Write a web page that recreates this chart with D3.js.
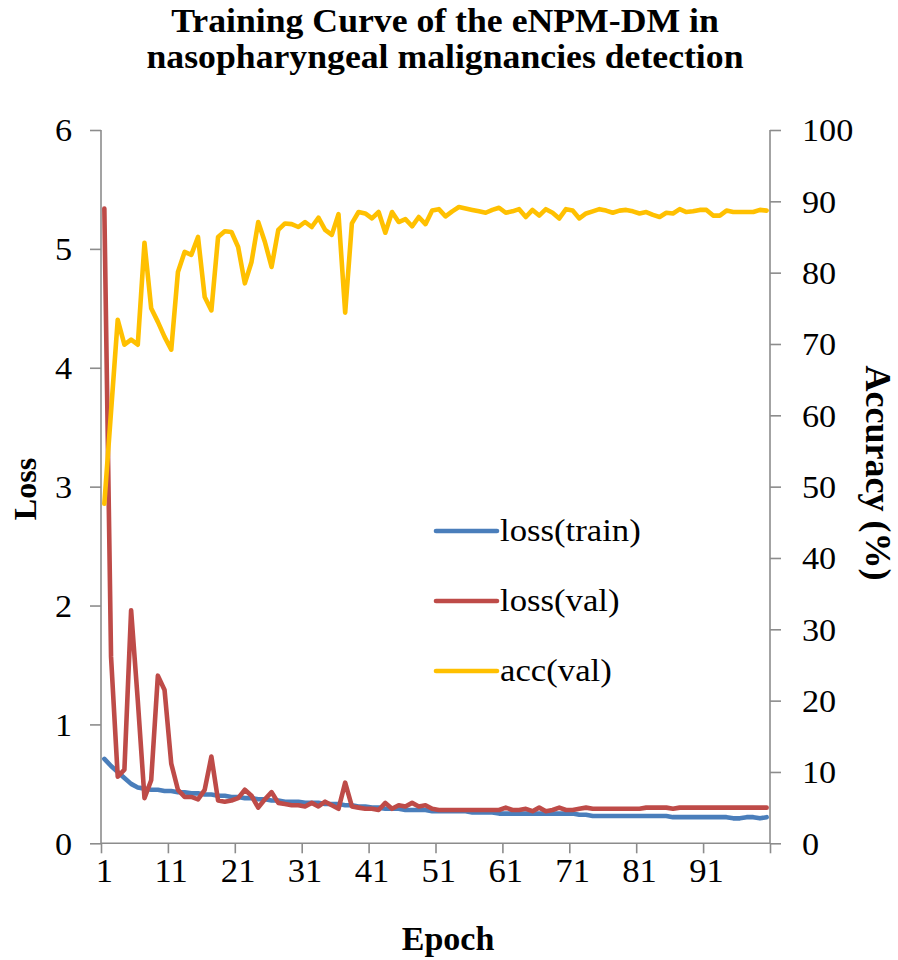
<!DOCTYPE html>
<html><head><meta charset="utf-8">
<script src="https://cdn.jsdelivr.net/npm/d3@7"></script>
<style>body{margin:0;background:#fff}svg{display:block}</style>
</head><body>
<script>
const epochs = d3.range(1, 101);
const xTickLabels = [1, 11, 21, 31, 41, 51, 61, 71, 81, 91];
const lossTicks = [0, 1, 2, 3, 4, 5, 6];
const accTicks = [0, 10, 20, 30, 40, 50, 60, 70, 80, 90, 100];

const lossTrain = [0.71,0.65,0.60,0.55,0.50,0.47,0.46,0.45,0.45,0.44,
0.44,0.43,0.43,0.42,0.42,0.41,0.41,0.40,0.40,0.39,
0.39,0.38,0.38,0.37,0.37,0.36,0.36,0.35,0.35,0.35,
0.34,0.34,0.34,0.33,0.33,0.33,0.32,0.32,0.31,0.31,
0.30,0.30,0.29,0.29,0.29,0.28,0.28,0.28,0.28,0.27,
0.27,0.27,0.27,0.27,0.27,0.26,0.26,0.26,0.26,0.25,
0.25,0.25,0.25,0.25,0.25,0.25,0.25,0.25,0.25,0.25,
0.25,0.24,0.24,0.23,0.23,0.23,0.23,0.23,0.23,0.23,
0.23,0.23,0.23,0.23,0.23,0.22,0.22,0.22,0.22,0.22,
0.22,0.22,0.22,0.22,0.21,0.21,0.22,0.22,0.21,0.22];

const lossVal = [5.34,1.57,0.56,0.62,1.96,1.20,0.38,0.53,1.41,1.29,
0.67,0.45,0.39,0.39,0.37,0.45,0.73,0.36,0.35,0.36,
0.38,0.45,0.40,0.30,0.37,0.43,0.34,0.33,0.32,0.32,
0.31,0.34,0.31,0.35,0.32,0.29,0.51,0.31,0.30,0.29,
0.29,0.28,0.34,0.29,0.32,0.31,0.34,0.31,0.32,0.29,
0.28,0.28,0.28,0.28,0.28,0.28,0.28,0.28,0.28,0.28,
0.30,0.28,0.28,0.29,0.27,0.30,0.27,0.28,0.30,0.28,
0.28,0.29,0.30,0.29,0.29,0.29,0.29,0.29,0.29,0.29,
0.29,0.30,0.30,0.30,0.30,0.29,0.30,0.30,0.30,0.30,
0.30,0.30,0.30,0.30,0.30,0.30,0.30,0.30,0.30,0.30];

const accVal = [47.6,60.5,73.4,69.9,70.6,69.9,84.2,75.0,73.1,71.0,
69.2,80.1,82.9,82.5,85.0,76.6,74.7,85.0,85.8,85.7,
83.6,78.5,81.5,87.1,84.3,80.8,86.0,86.9,86.8,86.4,
87.1,86.4,87.7,86.0,85.3,88.2,74.4,86.9,88.5,88.3,
87.6,88.5,85.6,88.5,87.1,87.5,86.5,87.8,86.8,88.7,
88.9,87.9,88.6,89.2,89.0,88.8,88.6,88.4,88.8,89.1,
88.4,88.6,88.9,87.8,88.8,88.0,88.9,88.4,87.6,88.9,
88.7,87.6,88.3,88.6,88.9,88.7,88.4,88.7,88.8,88.6,
88.3,88.5,88.1,87.8,88.4,88.3,88.9,88.5,88.6,88.8,
88.8,88.0,88.0,88.7,88.5,88.5,88.5,88.5,88.8,88.7];

const seriesNames = ["loss(train)", "loss(val)", "acc(val)"];
const colors = ["#4A7EBB", "#BE4B48", "#FFC000"];

const W = 898, H = 960;
const pLeft = 101, pRight = 770, pTop = 130, pBottom = 843.3;
const axisColor = "#8C8C8C";
const serif = "Liberation Serif, Times New Roman, serif";

const svg = d3.select("body").append("svg").attr("width", W).attr("height", H);

const x = d3.scaleLinear().domain([0.5, 100.5]).range([pLeft, pRight]);
const yL = d3.scaleLinear().domain([0, 6]).range([pBottom, pTop]);
const yR = d3.scaleLinear().domain([0, 100]).range([pBottom, pTop]);

// axes
const gl = svg.append("g").attr("transform", `translate(${pLeft},0)`)
  .call(d3.axisLeft(yL).tickValues(lossTicks).tickSize(11).tickFormat(d3.format("d")));
const gr = svg.append("g").attr("transform", `translate(${pRight},0)`)
  .call(d3.axisRight(yR).tickValues(accTicks).tickSize(11).tickFormat(d3.format("d")));
const gb = svg.append("g").attr("transform", `translate(0,${pBottom})`)
  .call(d3.axisBottom(x).tickValues(d3.range(0.5, 101, 10)).tickSize(10).tickFormat(""));

[gl, gr, gb].forEach(g => {
  g.select(".domain").attr("stroke", axisColor).attr("stroke-width", 1.6);
  g.selectAll(".tick line").attr("stroke", axisColor).attr("stroke-width", 1.6);
});
gl.select(".domain").attr("d", `M0,${pTop}V${pBottom}`);
gr.select(".domain").attr("d", `M0,${pTop}V${pBottom}`);
gb.select(".domain").attr("d", `M${pLeft},0H${pRight}`);

gl.selectAll(".tick text").attr("x", 0).attr("dy", "0.34em")
  .attr("transform", "translate(-29,0) scale(1.07,1)")
  .attr("font-family", serif).attr("font-size", 32).attr("fill", "#000");
gr.selectAll(".tick text").attr("x", 0).attr("dy", "0.34em")
  .attr("transform", "translate(32,0) scale(1.07,1)")
  .attr("font-family", serif).attr("font-size", 32).attr("fill", "#000");

// x labels
svg.append("g").selectAll("text").data(xTickLabels).join("text")
  .attr("transform", d => `translate(${x(d)},882) scale(1.05,1)`)
  .attr("text-anchor", "middle")
  .attr("font-family", serif).attr("font-size", 33).attr("fill", "#000")
  .text(d => d);

// lines
const series = [lossTrain, lossVal, accVal];
const scales = [yL, yL, yR];
series.forEach((s, k) => {
  const line = d3.line().x((d, i) => x(epochs[i])).y(d => scales[k](d));
  svg.append("path").datum(s).attr("d", line)
    .attr("fill", "none").attr("stroke", colors[k]).attr("stroke-width", 4.6)
    .attr("stroke-linejoin", "round").attr("stroke-linecap", "round");
});

// legend
const legY = [531, 601, 671];
seriesNames.forEach((n, k) => {
  svg.append("line").attr("x1", 436).attr("x2", 497).attr("y1", legY[k]).attr("y2", legY[k])
    .attr("stroke", colors[k]).attr("stroke-width", 4.6).attr("stroke-linecap", "round");
  svg.append("text").attr("transform", `translate(500,${legY[k] + 10}) scale(1.12,1)`)
    .attr("font-family", serif).attr("font-size", 31).attr("fill", "#000").text(n);
});

// titles
const title = ["Training Curve of the eNPM-DM in", "nasopharyngeal malignancies detection"];
title.forEach((t, k) => {
  svg.append("text").attr("transform", `translate(445,${32 + k * 36}) scale(1.05,1)`)
    .attr("text-anchor", "middle").attr("font-family", serif).attr("font-weight", "bold")
    .attr("font-size", 34).attr("fill", "#000").text(t);
});
svg.append("text").attr("transform", `translate(448,950)`)
  .attr("text-anchor", "middle").attr("font-family", serif).attr("font-weight", "bold")
  .attr("font-size", 34).attr("fill", "#000").text("Epoch");
svg.append("text").attr("transform", `translate(36,489) rotate(-90)`)
  .attr("text-anchor", "middle").attr("font-family", serif).attr("font-weight", "bold")
  .attr("font-size", 32).attr("fill", "#000").text("Loss");
svg.append("text").attr("transform", `translate(866,473) rotate(90)`)
  .attr("text-anchor", "middle").attr("font-family", serif).attr("font-weight", "bold")
  .attr("font-size", 36).attr("fill", "#000").text("Accuracy (%)");
</script>
</body></html>
